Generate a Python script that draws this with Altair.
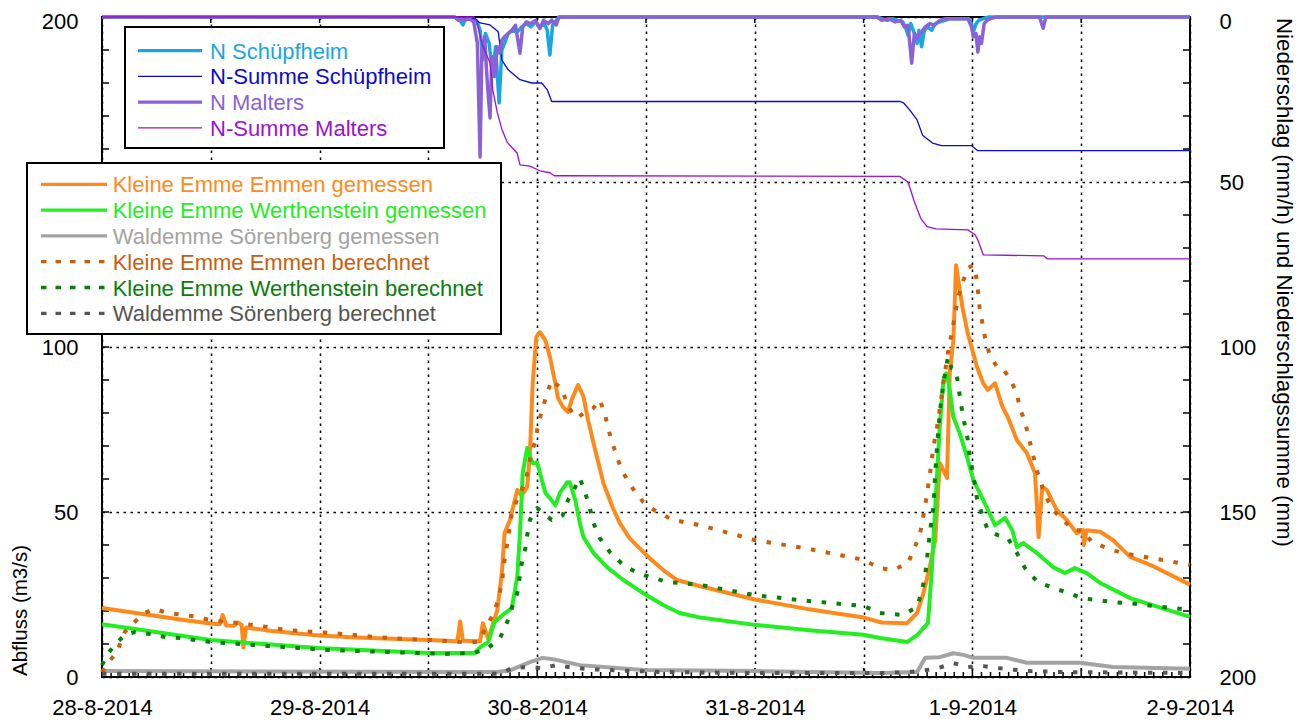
import altair as alt
import pandas as pd

BASE = pd.Timestamp("2014-08-28 00:00:00")
FONT = "Liberation Sans"
W, H = 1088, 660
FS = 22

# ---------------- data (hours since 28-8-2014 00:00, values) ----------------
emmen_mess_h = [0, 3, 6, 9, 12, 13.0, 13.3, 13.7, 14.5, 15.0, 15.4, 15.6, 15.9, 18, 21, 24, 28, 32, 36,
                39.2, 39.5, 39.8, 41.7, 42.0, 42.6, 43.0, 43.6, 44.1, 44.4, 45.0, 45.8, 46.3, 46.9, 47.2,
                47.5, 47.9, 48.3, 48.9, 49.4, 50.0, 50.3, 50.8, 51.4, 51.8, 52.5, 53.1, 53.6, 54.2, 55.3,
                56.3, 57.1, 58.2, 59.3, 60.4, 61.9, 63.4, 66, 72, 78, 84, 86, 88.8, 89.9, 90.6, 91.3, 91.9,
                92.4, 92.8, 93.2, 93.5, 93.9, 94.2, 94.4, 94.9, 95.5, 96.5, 97.2, 97.7, 98.5, 99.3, 99.9,
                100.9, 102.0, 102.9, 103.1, 103.3, 103.7, 104.2, 105.3, 106.4, 107.5, 108.2, 108.3, 108.6,
                110.1, 111.5, 113.4, 115.6, 120]
emmen_mess_v = [20.9, 19.7, 18.5, 17.3, 16.2, 16.0, 18.8, 15.6, 15.5, 16.5, 15.8, 9.0, 15.0, 14.2, 13.3, 12.6,
                12.0, 11.6, 11.2, 10.8, 16.8, 11.0, 10.8, 16.3, 11.5, 15.0, 20.3, 31.5, 43.6, 47.6, 56.7,
                55.0, 57.6, 67.9, 89.0, 103.0, 104.5, 102.0, 97.0, 89.0, 84.5, 82.0, 80.3, 84.0, 88.5, 85.0,
                78.0, 71.0, 58.8, 51.5, 46.7, 42.0, 39.0, 36.0, 32.4, 29.4, 27.5, 23.5, 20.5, 18.0, 16.5,
                16.3, 19.4, 25.4, 33.4, 41.5, 64.8, 62.7, 60.3, 92.0, 102.0, 124.8, 121.0, 112.0, 104.0,
                94.0, 89.0, 87.0, 89.0, 82.0, 78.8, 71.8, 67.9, 61.8, 52.7, 42.4, 57.6, 56.7, 50.6, 47.6,
                43.6, 44.5, 40.0, 44.5, 44.0, 41.5, 36.4, 34.0, 28.0]

werth_mess_h = [0, 12, 23.8, 36, 41.1, 41.7, 42.6, 43.3, 44.2, 45.2, 45.8, 46.1, 46.4, 46.9, 47.2, 47.5,
                48.0, 48.3, 48.9, 49.4, 50.0, 50.5, 51.3, 51.6, 52.2, 52.7, 53.1, 54.2, 55.7, 57.5, 59.7,
                61.9, 63.7, 66, 72, 78, 84, 85.8, 88.8, 89.9, 91.1, 91.5, 91.9, 92.4, 92.8, 93.1, 93.3,
                93.5, 93.9, 94.6, 95.4, 96.1, 97.2, 98.5, 99.6, 100.4, 100.9, 101.6, 103.1, 104.9, 106.2,
                107.3, 108.6, 110.1, 113.4, 120]
werth_mess_v = [16.0, 11.2, 8.8, 7.3, 7.3, 9.0, 10.6, 16.7, 18.8, 20.9, 30.3, 43.6, 61.8, 69.4, 66.7, 64.8,
                65.0, 61.8, 55.8, 54.2, 52.0, 55.8, 59.0, 59.0, 53.6, 46.7, 42.4, 37.6, 33.3, 29.4, 25.4,
                21.8, 19.4, 18.0, 15.8, 14.2, 12.8, 11.8, 10.6, 12.7, 16.3, 31.5, 51.5, 75.8, 90.0, 92.0,
                90.0, 87.0, 78.8, 73.9, 66.7, 59.7, 53.6, 46.0, 48.2, 44.5, 39.4, 40.6, 37.6, 33.3, 31.5,
                33.0, 31.5, 28.5, 23.9, 18.2]

wald_mess_h = [0, 40, 43.5, 45.0, 47.2, 48.6, 50.1, 52.7, 56.8, 59.7, 72, 85.8, 89.9, 90.8, 92.4, 93.9,
               95.0, 96.1, 99.8, 102.0, 107.9, 111.5, 120]
wald_mess_v = [1.8, 1.5, 1.5, 2.0, 4.5, 5.8, 5.2, 3.6, 2.7, 2.1, 1.8, 1.2, 1.5, 5.8, 6.0, 7.2,
               6.7, 5.8, 5.8, 4.3, 4.3, 3.0, 2.5]

emmen_ber_h = [0, 0.7, 1.6, 2.5, 3.6, 4.7, 5.8, 7.3, 9.0, 10.6, 12.2, 14.0, 17.4, 20.4, 23.7, 26.8, 30.1,
               33.4, 36.5, 39.8, 41.5, 43.1, 43.7, 44.1, 44.4, 44.8, 45.2, 45.9, 46.7, 47.2, 47.8, 48.1,
               48.6, 49.1, 49.6, 50.2, 50.7, 51.4, 52.4, 53.3, 54.2, 54.9, 55.5, 55.8, 56.3, 56.9, 57.5,
               58.5, 59.7, 61.2, 63.0, 66, 72, 78, 84, 85.8, 87.2, 88.9, 90.2, 90.8, 91.3, 91.7, 92.2,
               92.8, 93.3, 93.9, 94.4, 94.9, 95.5, 96.1, 96.5, 96.8, 97.4, 97.9, 98.7, 99.3, 100.1,
               100.9, 101.2, 101.8, 102.6, 103.1, 104.0, 104.9, 106.0, 107.1, 108.1, 109.2, 110.9,
               112.5, 120]
emmen_ber_v = [1.5, 4.5, 7.3, 13.6, 16.7, 19.4, 20.6, 19.4, 18.8, 18.2, 17.0, 16.7, 15.5, 14.2, 13.6, 13.0,
               12.1, 11.5, 11.2, 10.6, 10.6, 18.8, 23.3, 28.5, 35.5, 42.1, 49.7, 54.5, 59.0, 65.8, 71.8,
               76.4, 81.5, 86.0, 90.0, 88.5, 87.6, 81.8, 78.5, 80.3, 81.5, 84.0, 79.4, 75.5, 70.9, 65.8,
               61.8, 57.3, 53.0, 50.0, 47.6, 46.0, 41.5, 38.8, 35.5, 33.0, 32.4, 34.5, 43.0, 52.0, 61.2,
               69.7, 77.3, 89.0, 98.2, 107.0, 114.8, 119.4, 124.0, 124.8, 120.3, 111.8, 102.7, 97.6,
               94.0, 93.6, 90.6, 86.0, 81.8, 77.3, 68.2, 62.7, 55.2, 50.6, 47.6, 44.5, 44.5, 40.9, 39.0,
               37.6, 34.0]

werth_ber_h = [0, 0.7, 1.6, 2.5, 3.6, 5.3, 7.0, 8.6, 10.3, 12.0, 13.6, 15.2, 16.7, 18.3, 20.0, 21.6, 23.3,
               24.8, 28.1, 31.1, 34.5, 37.8, 41.1, 42.6, 43.9, 44.7, 45.2, 45.8, 46.3, 46.7, 46.9, 47.2,
               48.0, 48.6, 49.6, 50.8, 51.4, 52.2, 52.7, 53.3, 53.8, 54.2, 54.9, 56.0, 57.5, 59.1, 60.8,
               62.4, 66, 72, 77, 84, 85.8, 88.3, 89.9, 90.4, 90.8, 91.3, 91.7, 91.9, 92.1, 92.4, 92.8,
               93.3, 93.7, 94.2, 94.4, 94.9, 95.2, 95.5, 95.7, 96.1, 96.5, 97.1, 97.7, 98.8, 99.9, 100.9,
               101.8, 103.2, 104.9, 106.6, 108.1, 109.8, 111.5, 113.2, 120]
werth_ber_v = [3.6, 7.3, 10.3, 12.7, 13.6, 13.0, 12.1, 11.8, 11.2, 10.6, 10.3, 10.0, 9.7, 9.4, 9.1, 8.8, 8.5,
               8.2, 7.9, 7.6, 7.3, 7.0, 7.3, 8.8, 11.8, 16.7, 20.9, 25.4, 34.5, 39.0, 43.0, 47.6, 51.2,
               49.7, 47.6, 49.0, 53.6, 57.6, 60.3, 55.8, 51.2, 46.7, 42.1, 37.9, 33.9, 31.5, 30.0, 28.8,
               27.9, 24.8, 23.3, 21.5, 19.4, 18.8, 21.2, 25.8, 30.9, 43.6, 51.5, 61.8, 69.7, 80.0, 89.0,
               97.0, 93.6, 93.0, 89.0, 80.0, 75.8, 71.8, 66.7, 61.2, 54.2, 49.0, 44.5, 43.0, 42.1, 37.6,
               33.0, 28.8, 27.0, 25.4, 23.9, 23.3, 22.7, 22.4, 20.3]

wald_ber_h = [0, 44.0, 45.2, 47.2, 48.6, 50.1, 52.0, 53.6, 56.8, 62, 72, 85.8, 89.1, 92.0, 93.9, 95.5,
              97.2, 98.8, 102.0, 106, 120]
wald_ber_v = [1.0, 1.0, 2.7, 3.0, 2.7, 3.6, 2.8, 2.4, 2.0, 1.5, 1.2, 1.2, 1.5, 2.5, 4.2, 3.0,
              3.3, 2.7, 1.8, 1.5, 1.2]

n_schuepf_h = [0, 38.9, 39.5, 39.8, 40.1, 40.8, 41.3, 41.7, 42.0, 42.3, 42.7, 43.1, 43.4, 43.8, 44.1, 44.4,
               44.8, 45.3, 45.8, 46.3, 46.8, 47.3, 47.8, 48.3, 48.8, 49.1, 49.4, 49.7, 50.1, 50.4,
               85.5, 86.0, 86.6, 87.2, 87.8, 88.3, 88.6, 88.9, 89.2, 89.6, 89.9, 90.1, 90.4, 90.7, 91.1,
               91.5, 91.9, 92.4, 93.0, 93.5, 95.6, 95.9, 96.1, 96.4, 96.7, 97.2, 97.8, 120]
n_schuepf_v = [0, 0, 1.0, 2.4, 0.5, 0.5, 1.0, 4.0, 13.0, 5.0, 8.0, 18.0, 9.0, 26.0, 10.0, 8.0,
               5.0, 4.0, 4.5, 3.0, 2.0, 3.0, 1.5, 3.0, 2.0, 4.0, 11.5, 2.4, 1.0, 0,
               0, 0.5, 1.0, 0.5, 1.0, 1.5, 3.0, 5.5, 2.0, 5.0, 8.0, 4.0, 9.0, 4.0, 3.0,
               4.0, 2.0, 1.5, 1.0, 0.5, 0.5, 2.0, 4.5, 2.0, 1.0, 0.5, 0, 0]

sum_schuepf_h = [0, 39.3, 39.6, 41.1, 41.7, 42.8, 43.7, 44.1, 44.8, 46.1, 47.4, 48.5, 49.1, 49.6,
                 88.0, 88.4, 89.1, 89.9, 90.5, 91.6, 92.6, 95.9, 96.6, 120]
sum_schuepf_v = [0, 0, 0.3, 0.5, 1.8, 2.4, 4.5, 13.0, 16.0, 19.0, 20.0, 20.0, 22.0, 25.6,
                 25.6, 26.0, 28.2, 31.2, 35.8, 38.2, 39.0, 39.0, 40.5, 40.5]

n_malters_h = [0, 38.9, 39.3, 39.6, 40.0, 40.5, 41.0, 41.4, 41.7, 41.9, 42.2, 42.5, 42.8, 43.0, 43.3, 43.6,
               43.9, 44.1, 44.4, 44.8, 45.2, 45.6, 46.1, 46.4, 46.8, 47.3, 47.8, 48.3, 48.7, 49.2, 49.6,
               50.1, 50.4, 85.5, 86.0, 86.8, 87.5, 88.1, 88.5, 88.9, 89.3, 89.6, 89.9, 90.4, 90.8, 91.3,
               91.8, 92.4, 93.0, 94.0, 95.5, 95.9, 96.1, 96.4, 96.6, 96.8, 97.0, 97.3, 97.6, 98.2, 98.7,
               103.4, 103.8, 104.1, 120]
n_malters_v = [0, 0, 1.0, 0.5, 1.0, 0.5, 1.5, 8.0, 42.4, 10.0, 6.0, 20.0, 30.6, 12.0, 18.0, 9.0,
               11.0, 7.0, 6.0, 5.0, 4.0, 2.5, 11.0, 3.0, 1.5, 2.0, 1.0, 3.5, 1.0, 2.0, 1.0,
               2.4, 0, 0, 1.0, 0.5, 1.5, 1.0, 3.0, 2.5, 14.0, 5.0, 6.4, 4.5, 3.0, 2.0,
               2.5, 1.0, 0.5, 0.5, 0.5, 3.0, 6.0, 5.0, 10.6, 6.0, 8.0, 2.0, 1.0, 0.3, 0,
               0, 3.4, 0, 0]

sum_malters_h = [0, 41.0, 41.3, 41.9, 42.8, 43.1, 43.6, 44.1, 44.7, 45.8, 46.1, 47.2, 48.3, 49.4, 49.9,
                 88.0, 88.9, 89.6, 90.3, 91.0, 92.0, 95.5, 96.3, 96.6, 97.2, 103.9, 104.3, 120]
sum_malters_v = [0, 0, 0.9, 8.0, 14.0, 22.0, 29.0, 34.0, 38.0, 41.3, 44.8, 45.2, 46.6, 47.2, 48.1,
                 48.3, 50.0, 56.0, 61.0, 63.5, 64.2, 64.5, 66.0, 67.6, 72.1, 72.4, 73.3, 73.3]

y_tick_labels = [0, 50, 100, 150, 200]


def iso(hours):
    return (BASE + pd.to_timedelta(hours, unit="h")).strftime("%Y-%m-%dT%H:%M:%S").tolist()


def frame(hours, values):
    return pd.DataFrame({"t": iso(hours), "v": values})


def dt(ts):
    return alt.DateTime(year=int(ts.year), month=int(ts.month), date=int(ts.day), hours=int(ts.hour))


grid_times = [BASE + pd.Timedelta(hours=12 * k) for k in range(11)]

x_axis = alt.Axis(
    orient="bottom", values=[dt(t) for t in grid_times],
    labelExpr="hours(datum.value) == 0 ? timeFormat(datum.value, '%-d-%-m-%Y') : ''",
    grid=True, gridDash=[2.5, 4.5], gridColor="black", gridWidth=1.5, gridOpacity=1,
    domain=False, ticks=False, tickSize=0, labelPadding=37, labelBaseline="alphabetic",
    labelFlush=False, labelOverlap=False, labelFont=FONT, labelFontSize=FS, labelColor="black",
    title=None)
x_scale = alt.Scale(domain=[dt(grid_times[0]), dt(grid_times[-1])], nice=False)
xenc = alt.X("t:T", scale=x_scale, axis=x_axis)

left_axis = alt.Axis(
    orient="left", values=y_tick_labels, grid=True, gridDash=[2.5, 4.5], gridColor="black",
    gridWidth=1.5, gridOpacity=1, domain=False, ticks=False, tickSize=0, labelPadding=24,
    labelOffset={"condition": {"test": "datum.value == 200", "value": 4}, "value": 0},
    labelFont=FONT, labelFontSize=FS, labelColor="black", labelFlush=False,
    title="Abfluss (m3/s)", titleFont=FONT, titleFontSize=20.5, titleFontWeight="normal",
    titleColor="black", titleAngle=270, titleX=-82, titleY=593, titleAlign="center",
    titleBaseline="middle")
yleft = alt.Y("v:Q", scale=alt.Scale(domain=[0, 200], nice=False, zero=True), axis=left_axis)

right_axis = alt.Axis(
    orient="right", values=y_tick_labels, grid=False, domain=False, ticks=False, tickSize=0,
    labelPadding=29, labelFont=FONT, labelFontSize=FS, labelColor="black", labelFlush=False,
    labelOffset={"condition": {"test": "datum.value == 0", "value": 4}, "value": 0},
    title="Niederschlag (mm/h) und Niederschlagssumme (mm)", titleFont=FONT, titleFontSize=22.3,
    titleFontWeight="normal", titleColor="black", titleAngle=90, titleX=93, titleY=265,
    titleAlign="center", titleBaseline="middle")
yright = alt.Y("v:Q", scale=alt.Scale(domain=[0, 200], nice=False, reverse=True), axis=right_axis)

C = {
    "n_schuepf": "#1AA6E0", "sum_schuepf": "#0A0AD2", "n_malters": "#8A62D6", "sum_malters": "#9A12D4",
    "emmen_mess": "#FF8A1C", "werth_mess": "#22EE22", "wald_mess": "#A3A3A3",
    "emmen_ber": "#C95E0C", "werth_ber": "#0A7D0A", "wald_ber": "#555555",
}
DOT = [4.5, 10.5]


def line(h, v, color, width, y, dash=None):
    kw = dict(color=color, strokeWidth=width, strokeJoin="round")
    if dash:
        kw["strokeDash"] = dash
        kw["strokeCap"] = "butt"
    return alt.Chart(frame(h, v)).mark_line(**kw).encode(x=xenc, y=y)


# ticks (inward, gnuplot style)
minor_h = [h for h in range(1, 120) if h % 12]
major_h = [h for h in range(12, 120, 12)]
ytick_vals = pd.DataFrame({"v": list(range(10, 200, 10))})
tick_style = dict(color="black", strokeWidth=1.5)

left_ticks = alt.Chart(ytick_vals).mark_rule(**tick_style).encode(
    y=yleft, x=alt.value(0), x2=alt.value(7))
bottom_minor = alt.Chart(pd.DataFrame({"t": iso(minor_h)})).mark_rule(**tick_style).encode(
    x=xenc, y=alt.value(H - 5), y2=alt.value(H))
bottom_major = alt.Chart(pd.DataFrame({"t": iso(major_h)})).mark_rule(**tick_style).encode(
    x=xenc, y=alt.value(H - 9), y2=alt.value(H))
top_major = alt.Chart(pd.DataFrame({"t": iso(major_h)})).mark_rule(**tick_style).encode(
    x=xenc, y=alt.value(0), y2=alt.value(6))
right_ticks = alt.Chart(ytick_vals).mark_rule(**tick_style).encode(
    y=yright, x=alt.value(W - 7), x2=alt.value(W))

discharge = alt.layer(
    left_ticks, bottom_minor, bottom_major, top_major,
    line(emmen_mess_h, emmen_mess_v, C["emmen_mess"], 4, yleft),
    line(werth_mess_h, werth_mess_v, C["werth_mess"], 4, yleft),
    line(wald_mess_h, wald_mess_v, C["wald_mess"], 4, yleft),
    line(emmen_ber_h, emmen_ber_v, C["emmen_ber"], 4, yleft, DOT),
    line(werth_ber_h, werth_ber_v, C["werth_ber"], 4, yleft, DOT),
    line(wald_ber_h, wald_ber_v, C["wald_ber"], 4, yleft, DOT),
)

precip = alt.layer(
    right_ticks,
    line(n_schuepf_h, n_schuepf_v, C["n_schuepf"], 3.5, yright),
    line(sum_schuepf_h, sum_schuepf_v, C["sum_schuepf"], 1.3, yright),
    line(n_malters_h, n_malters_v, C["n_malters"], 3.5, yright),
    line(sum_malters_h, sum_malters_v, C["sum_malters"], 1.3, yright),
)

# ---------------- legends ----------------
one = pd.DataFrame({"k": [0]})


def box(x0, y0, x1, y1):
    return alt.Chart(one).mark_rect(fill="white", stroke="black", strokeWidth=2).encode(
        x=alt.value(x0), x2=alt.value(x1), y=alt.value(y0), y2=alt.value(y1))


def entry(x0, x1, xt, y, label, color, width, dash=None):
    kw = dict(color=color, strokeWidth=width)
    if dash:
        kw["strokeDash"] = dash
    ln = alt.Chart(one).mark_rule(**kw).encode(x=alt.value(x0), x2=alt.value(x1), y=alt.value(y))
    tx = alt.Chart(one).mark_text(align="left", baseline="middle", font=FONT, fontSize=FS,
                                  color=color).encode(
        x=alt.value(xt), y=alt.value(y + 1), text=alt.value(label))
    return [ln, tx]


leg1_names = ["N Schüpfheim", "N-Summe Schüpfheim", "N Malters", "N-Summe Malters"]
leg1_keys = ["n_schuepf", "sum_schuepf", "n_malters", "sum_malters"]
leg1_width = [3.3, 1.3, 3.3, 1.3]
leg1 = [box(23, 10, 342, 131)]
for i, (nm, k, w) in enumerate(zip(leg1_names, leg1_keys, leg1_width)):
    leg1 += entry(36, 100, 108, 33.7 + i * 25.7, nm, C[k], w)

leg2_names = ["Kleine Emme Emmen gemessen", "Kleine Emme Werthenstein gemessen",
              "Waldemme Sörenberg gemessen", "Kleine Emme Emmen berechnet",
              "Kleine Emme Werthenstein berechnet", "Waldemme Sörenberg berechnet"]
leg2_keys = ["emmen_mess", "werth_mess", "wald_mess", "emmen_ber", "werth_ber", "wald_ber"]
leg2_dash = [None, None, None, [5.5, 9], [5.5, 9], [5.5, 9]]
leg2 = [box(-75, 146, 399, 317)]
for i, (nm, k, d) in enumerate(zip(leg2_names, leg2_keys, leg2_dash)):
    leg2 += entry(-61, 5, 10.7, 167.3 + i * 25.8, nm, C[k], 3.3, d)

chart = alt.layer(discharge, precip, *leg1, *leg2).resolve_scale(y="independent").properties(
    width=W, height=H,
    padding={"left": 94, "top": 9, "right": 105, "bottom": 42},
    autosize=alt.AutoSizeParams(type="none"),
    background="white",
).configure_view(stroke="black", strokeWidth=2)

chart.save("out.html", embed_options={"renderer": "svg", "actions": False})
